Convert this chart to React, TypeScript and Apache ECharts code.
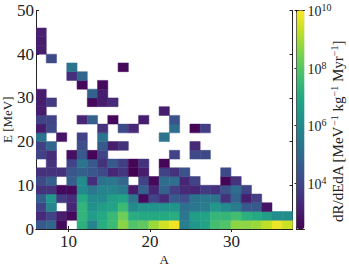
import React, { useEffect, useRef } from "react";
import * as echarts from "echarts";

const _ = null;
// log10(rate) per cell, row = E bin from 0 MeV upward, column = A bin
const row0 = [4.5, 4.9, 2.55, _, 7.2, 5.8, 7.1, 7.55, 8.65, 7.9, 8.1, 8.85, 9.47, 9.85, 5.6, 6.35, 6.8, 7.7, 7.9, 8.7, 8.7, 8.85, 9.25, 9.8, 9.4];
const row1 = [3.3, 3.9, 3.0, 2.55, 7.35, 6.6, 7.0, 7.5, 8.3, 7.1, 7.0, 7.0, 7.0, 7.1, 5.4, 6.6, 6.8, 7.4, 7.4, 7.7, 7.2, 7.0, 6.6, 6.05, 6.05];
const row2 = [3.9, 5.8, _, 3.2, 7.35, 6.2, 6.6, 6.8, 7.55, 6.0, 6.3, 6.3, 6.3, 6.3, 5.2, 5.4, 5.6, 6.4, 6.0, 5.6, 4.5, 4.5, 2.8];
const row3 = [4.7, 6.35, 3.7, 3.4, 7.0, 6.0, 6.0, 6.6, 6.8, 5.3, 2.6, 3.9, 3.3, 4.5, 4.2, 5.3, 5.4, 5.3, 3.5, 4.8, 3.05, 3.8];
const row4 = [3.5, 3.5, 2.6, 2.6, 6.0, 5.4, 5.8, 5.8, 5.5, 2.95, 4.7, 3.2, 4.8, 3.8, 3.3, 3.2, 3.7, 3.5, 4.3, 5.1, 3.9];
const row5 = [4.1, 4.7, _, 4.7, 6.05, 3.4, 5.3, 5.4, 4.9, _, 3.9, 2.55, 5.1, 5.15, 3.2, 3.9, _, _, 2.5, 3.5];
const row6 = [3.5, 3.5, 3.5, 4.45, 4.7, 4.45, 4.1, 3.2, 3.6, 2.4, 3.0, _, 3.9, 3.5, 4.3, _, _, _, 4.1];
const row7 = [_, 3.5, _, 3.9, 5.3, 4.5, 3.5, 4.5, 3.8, 2.5, 3.5, _, 2.5];
const row8 = [3.9, 3.3, _, 2.7, 4.5, 2.5, 3.9, _, _, _, _, _, _, 3.9, _, 4.1, 4.1];
const row9 = [3.8, 4.9, _, _, 4.2, _, 4.5, 3.0, 3.5, _, _, _, _, _, _, 3.3];
const row10 = [5.3, _, 2.8, _, 3.9, _, 5.3, _, _, _, _, _, 5.3];
const row11 = [2.95, 4.1, _, _, _, _, 3.5, _, 4.1, 3.3, _, _, _, 5.1, _, 2.5, 3.8];
const row12 = [3.9, 3.9, _, _, 3.2, 4.7, _, 2.55, _, _, 3.0, _, _, 4.3];
const row13 = [3.0, _, _, _, _, _, _, _, _, _, _, _, 3.0];
const row14 = [3.0, 3.7, _, _, _, 2.55, 3.0, 3.3];
const row15 = [3.0, _, _, _, _, 4.8, 3.0];
const row16 = [_, _, _, _, 2.55, _, 2.6];
const row17 = [_, _, _, 3.4, 4.9];
const row18 = [_, _, _, 5.3, _, _, _, _, 2.55];
const row19 = [_, 4.1];
const row20 = [3.0];
const row21 = [3.0];
const row22 = [3.1];
const rows = [row0, row1, row2, row3, row4, row5, row6, row7, row8, row9, row10, row11, row12, row13, row14, row15, row16, row17, row18, row19, row20, row21, row22];

const aMin = 6;
const aMax = 37.5;
const aBins = 25;
const eBin = 2;
const aTicks = [10, 20, 30];
const eTicks = [0, 10, 20, 30, 40, 50];
const logMin = 2.4;
const logMax = 10;
const barTicks = [4, 6, 8, 10];
const viridis = ["#440154", "#482475", "#414487", "#355f8d", "#2a788e", "#21918c", "#22a884", "#44bf70", "#7ad151", "#bddf26", "#fde725"];

const serif = "Liberation Serif";
const ink = "#222";

export default function App() {
  const ref = useRef<HTMLDivElement>(null);
  useEffect(() => {
    const chart = echarts.init(ref.current!, null, { renderer: "svg" });
    const aBin = (aMax - aMin) / aBins;
    const cells: number[][] = [];
    rows.forEach((row, r) =>
      row.forEach((v, c) => {
        if (v !== null) cells.push([aMin + c * aBin, r * eBin, v as number]);
      })
    );
    const lineStyle = { color: ink, width: 1 };
    chart.setOption({
      animation: false,
      backgroundColor: "#fff",
      grid: [
        { left: 36, right: 56.5, top: 10.5, bottom: 44, outerBoundsMode: "none" },
        { left: 296.5, width: 8, top: 10.5, bottom: 44, outerBoundsMode: "none" },
      ],
      xAxis: [
        {
          type: "value", gridIndex: 0, min: aMin, max: aMax, position: "bottom", name: "A",
          nameLocation: "middle", nameGap: 24, nameMoveOverlap: false, nameTextStyle: { fontFamily: serif, fontSize: 13, color: ink },
          splitLine: { show: false },
          axisLine: { lineStyle },
          axisTick: { inside: true, length: 3, customValues: aTicks, lineStyle },
          axisLabel: { customValues: aTicks, fontFamily: serif, fontSize: 17, color: ink, margin: 4 },
        },
        {
          type: "value", gridIndex: 0, min: aMin, max: aMax, position: "top",
          splitLine: { show: false },
          axisLine: { lineStyle },
          axisTick: { inside: true, length: 3, customValues: aTicks, lineStyle },
          axisLabel: { show: false },
        },
        { type: "value", gridIndex: 1, min: 0, max: 1, position: "bottom", splitLine: { show: false }, axisLine: { lineStyle }, axisTick: { show: false }, axisLabel: { show: false } },
        { type: "value", gridIndex: 1, min: 0, max: 1, position: "top", splitLine: { show: false }, axisLine: { lineStyle }, axisTick: { show: false }, axisLabel: { show: false } },
      ],
      yAxis: [
        {
          type: "value", gridIndex: 0, min: 0, max: 50, position: "left", name: "E [MeV]",
          nameLocation: "middle", nameGap: 22, nameMoveOverlap: false, nameRotate: 90, nameTextStyle: { fontFamily: serif, fontSize: 13, color: ink },
          splitLine: { show: false },
          axisLine: { lineStyle },
          axisTick: { inside: true, length: 3, customValues: eTicks, lineStyle },
          axisLabel: { customValues: eTicks, fontFamily: serif, fontSize: 17, color: ink, margin: 2 },
        },
        {
          type: "value", gridIndex: 0, min: 0, max: 50, position: "right",
          splitLine: { show: false },
          axisLine: { lineStyle },
          axisTick: { inside: true, length: 3, customValues: eTicks, lineStyle },
          axisLabel: { show: false },
        },
        {
          type: "value", gridIndex: 1, min: logMin, max: logMax, position: "right",
          splitLine: { show: false },
          axisLine: { lineStyle },
          axisTick: { show: true, inside: true, length: 2, customValues: barTicks, lineStyle },
          axisLabel: {
            customValues: barTicks, margin: 3,
            formatter: (v: number) => `{b|10}{s|${v}}`,
            rich: {
              b: { fontFamily: serif, fontSize: 14, color: ink, lineHeight: 16, verticalAlign: "bottom" },
              s: { fontFamily: serif, fontSize: 10, color: ink, lineHeight: 16, verticalAlign: "top" },
            },
          },
        },
        { type: "value", gridIndex: 1, min: logMin, max: logMax, position: "left", splitLine: { show: false }, axisLine: { lineStyle }, axisTick: { show: false }, axisLabel: { show: false } },
      ],
      visualMap: {
        type: "continuous", min: logMin, max: logMax, dimension: 2, seriesIndex: 0,
        calculable: false, hoverLink: false, showLabel: false, padding: 0,
        itemWidth: 8, itemHeight: 218.5, left: 296.5, top: 10.5, text: ["", ""],
        inRange: { color: viridis },
      },
      series: [
        {
          type: "custom", xAxisIndex: 0, yAxisIndex: 0, silent: true, clip: true, z: 1,
          encode: { x: 0, y: 1 },
          data: cells,
          renderItem: (_p: any, api: any) => {
            const x0 = api.value(0);
            const y0 = api.value(1);
            const a = api.coord([x0, y0]);
            const b = api.coord([x0 + aBin, y0 + eBin]);
            const color = api.visual("color");
            return {
              type: "rect",
              shape: { x: a[0], y: b[1], width: b[0] - a[0], height: a[1] - b[1] },
              style: { fill: color, stroke: color, lineWidth: 0.5 },
            };
          },
        },
      ],
      graphic: [
        {
          type: "text", silent: true, z: 10,
          x: 329, y: 222, rotation: Math.PI / 2,
          style: {
            text: "{t|dR/dEdA [MeV}{s|−1}{t| kg}{s|−1}{t| Myr}{s|−1}{t|]}",
            rich: {
              t: { fontFamily: serif, fontSize: 15, fill: ink, lineHeight: 16, verticalAlign: "bottom" },
              s: { fontFamily: serif, fontSize: 10, fill: ink, lineHeight: 16, verticalAlign: "top" },
            },
          },
        },
      ],
    });
    return () => chart.dispose();
  }, []);
  return <div ref={ref} style={{ position: "absolute", left: 0, top: 0, width: 349, height: 273 }} />;
}
